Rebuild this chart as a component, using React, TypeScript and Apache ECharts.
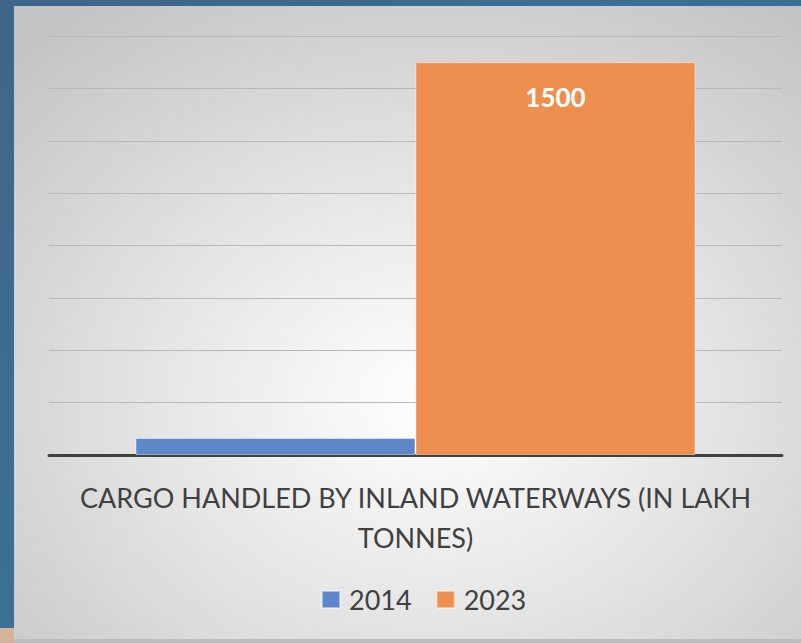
import React, { useEffect, useRef } from "react";
import * as echarts from "echarts";

const categories = ["CARGO HANDLED BY INLAND WATERWAYS (IN LAKH\nTONNES)"];
const seriesNames = ["2014", "2023"];
const values2014 = [65];
const values2023 = [1500];
const yTicks = { min: 0, max: 1600, interval: 200 };

export default function App() {
  const ref = useRef<HTMLDivElement>(null);
  useEffect(() => {
    if (!ref.current) return;
    const chart = echarts.init(ref.current, undefined, { renderer: "svg" });
    const font = "Lato";
    chart.setOption({
      animation: false,
      backgroundColor: "#3f6d92",
      graphic: [
        {
          type: "rect",
          z: -10,
          silent: true,
          shape: { x: 0, y: 0, width: 801, height: 643 },
          style: {
            fill: new echarts.graphic.LinearGradient(0, 0, 1, 1, [
              { offset: 0, color: "#3e6787" },
              { offset: 1, color: "#3a78a3" },
            ]),
          },
        },
        {
          type: "rect",
          z: -9,
          silent: true,
          shape: { x: 0, y: 628, width: 14, height: 15 },
          style: { fill: "#d4b39c" },
        },
        {
          type: "rect",
          z: -9,
          silent: true,
          shape: { x: 14, y: 639, width: 787, height: 4 },
          style: { fill: "#bdbdbd" },
        },
        {
          type: "rect",
          z: -8,
          silent: true,
          shape: { x: 14, y: 6, width: 787, height: 633 },
          style: {
            fill: new echarts.graphic.RadialGradient(0.53, 0.62, 0.75, [
              { offset: 0, color: "#ffffff" },
              { offset: 0.45, color: "#e6e6e6" },
              { offset: 1, color: "#c4c4c4" },
            ]),
          },
        },
      ],
      grid: { left: 49, right: 19, top: 36, bottom: 188, containLabel: false },
      legend: {
        data: seriesNames,
        top: 586,
        left: 321,
        padding: 0,
        itemWidth: 18,
        itemHeight: 17,
        itemGap: 24,
        icon: "rect",
        textStyle: { fontFamily: font, fontSize: 27, color: "#404040", padding: [0, 0, 0, 4] },
      },
      xAxis: {
        type: "category",
        data: categories,
        axisLine: { show: true, lineStyle: { color: "#404040", width: 3 } },
        axisTick: { show: false },
        axisLabel: {
          fontFamily: font,
          fontSize: 27,
          color: "#404040",
          lineHeight: 40,
          margin: 22,
          align: "center",
        },
      },
      yAxis: {
        type: "value",
        min: yTicks.min,
        max: yTicks.max,
        interval: yTicks.interval,
        axisLabel: { show: false },
        axisLine: { show: false },
        axisTick: { show: false },
        splitLine: { lineStyle: { color: "#b8b8b8", width: 1 } },
      },
      series: [
        {
          name: seriesNames[0],
          type: "bar",
          data: values2014,
          barWidth: 280,
          barGap: "0%",
          itemStyle: { color: "#5e87ca", borderColor: "rgba(255,255,255,0.45)", borderWidth: 1 },
        },
        {
          name: seriesNames[1],
          type: "bar",
          data: values2023,
          barWidth: 280,
          barGap: "0%",
          itemStyle: { color: "#ee8e4f", borderColor: "rgba(255,255,255,0.45)", borderWidth: 1 },
          label: {
            show: true,
            position: "insideTop",
            distance: 22,
            fontFamily: font,
            fontSize: 26,
            fontWeight: "bold",
            color: "#ffffff",
          },
        },
      ],
    });
    return () => chart.dispose();
  }, []);
  return (
    <div
      ref={ref}
      style={{ position: "fixed", left: 0, top: 0, width: 801, height: 643 }}
    />
  );
}
